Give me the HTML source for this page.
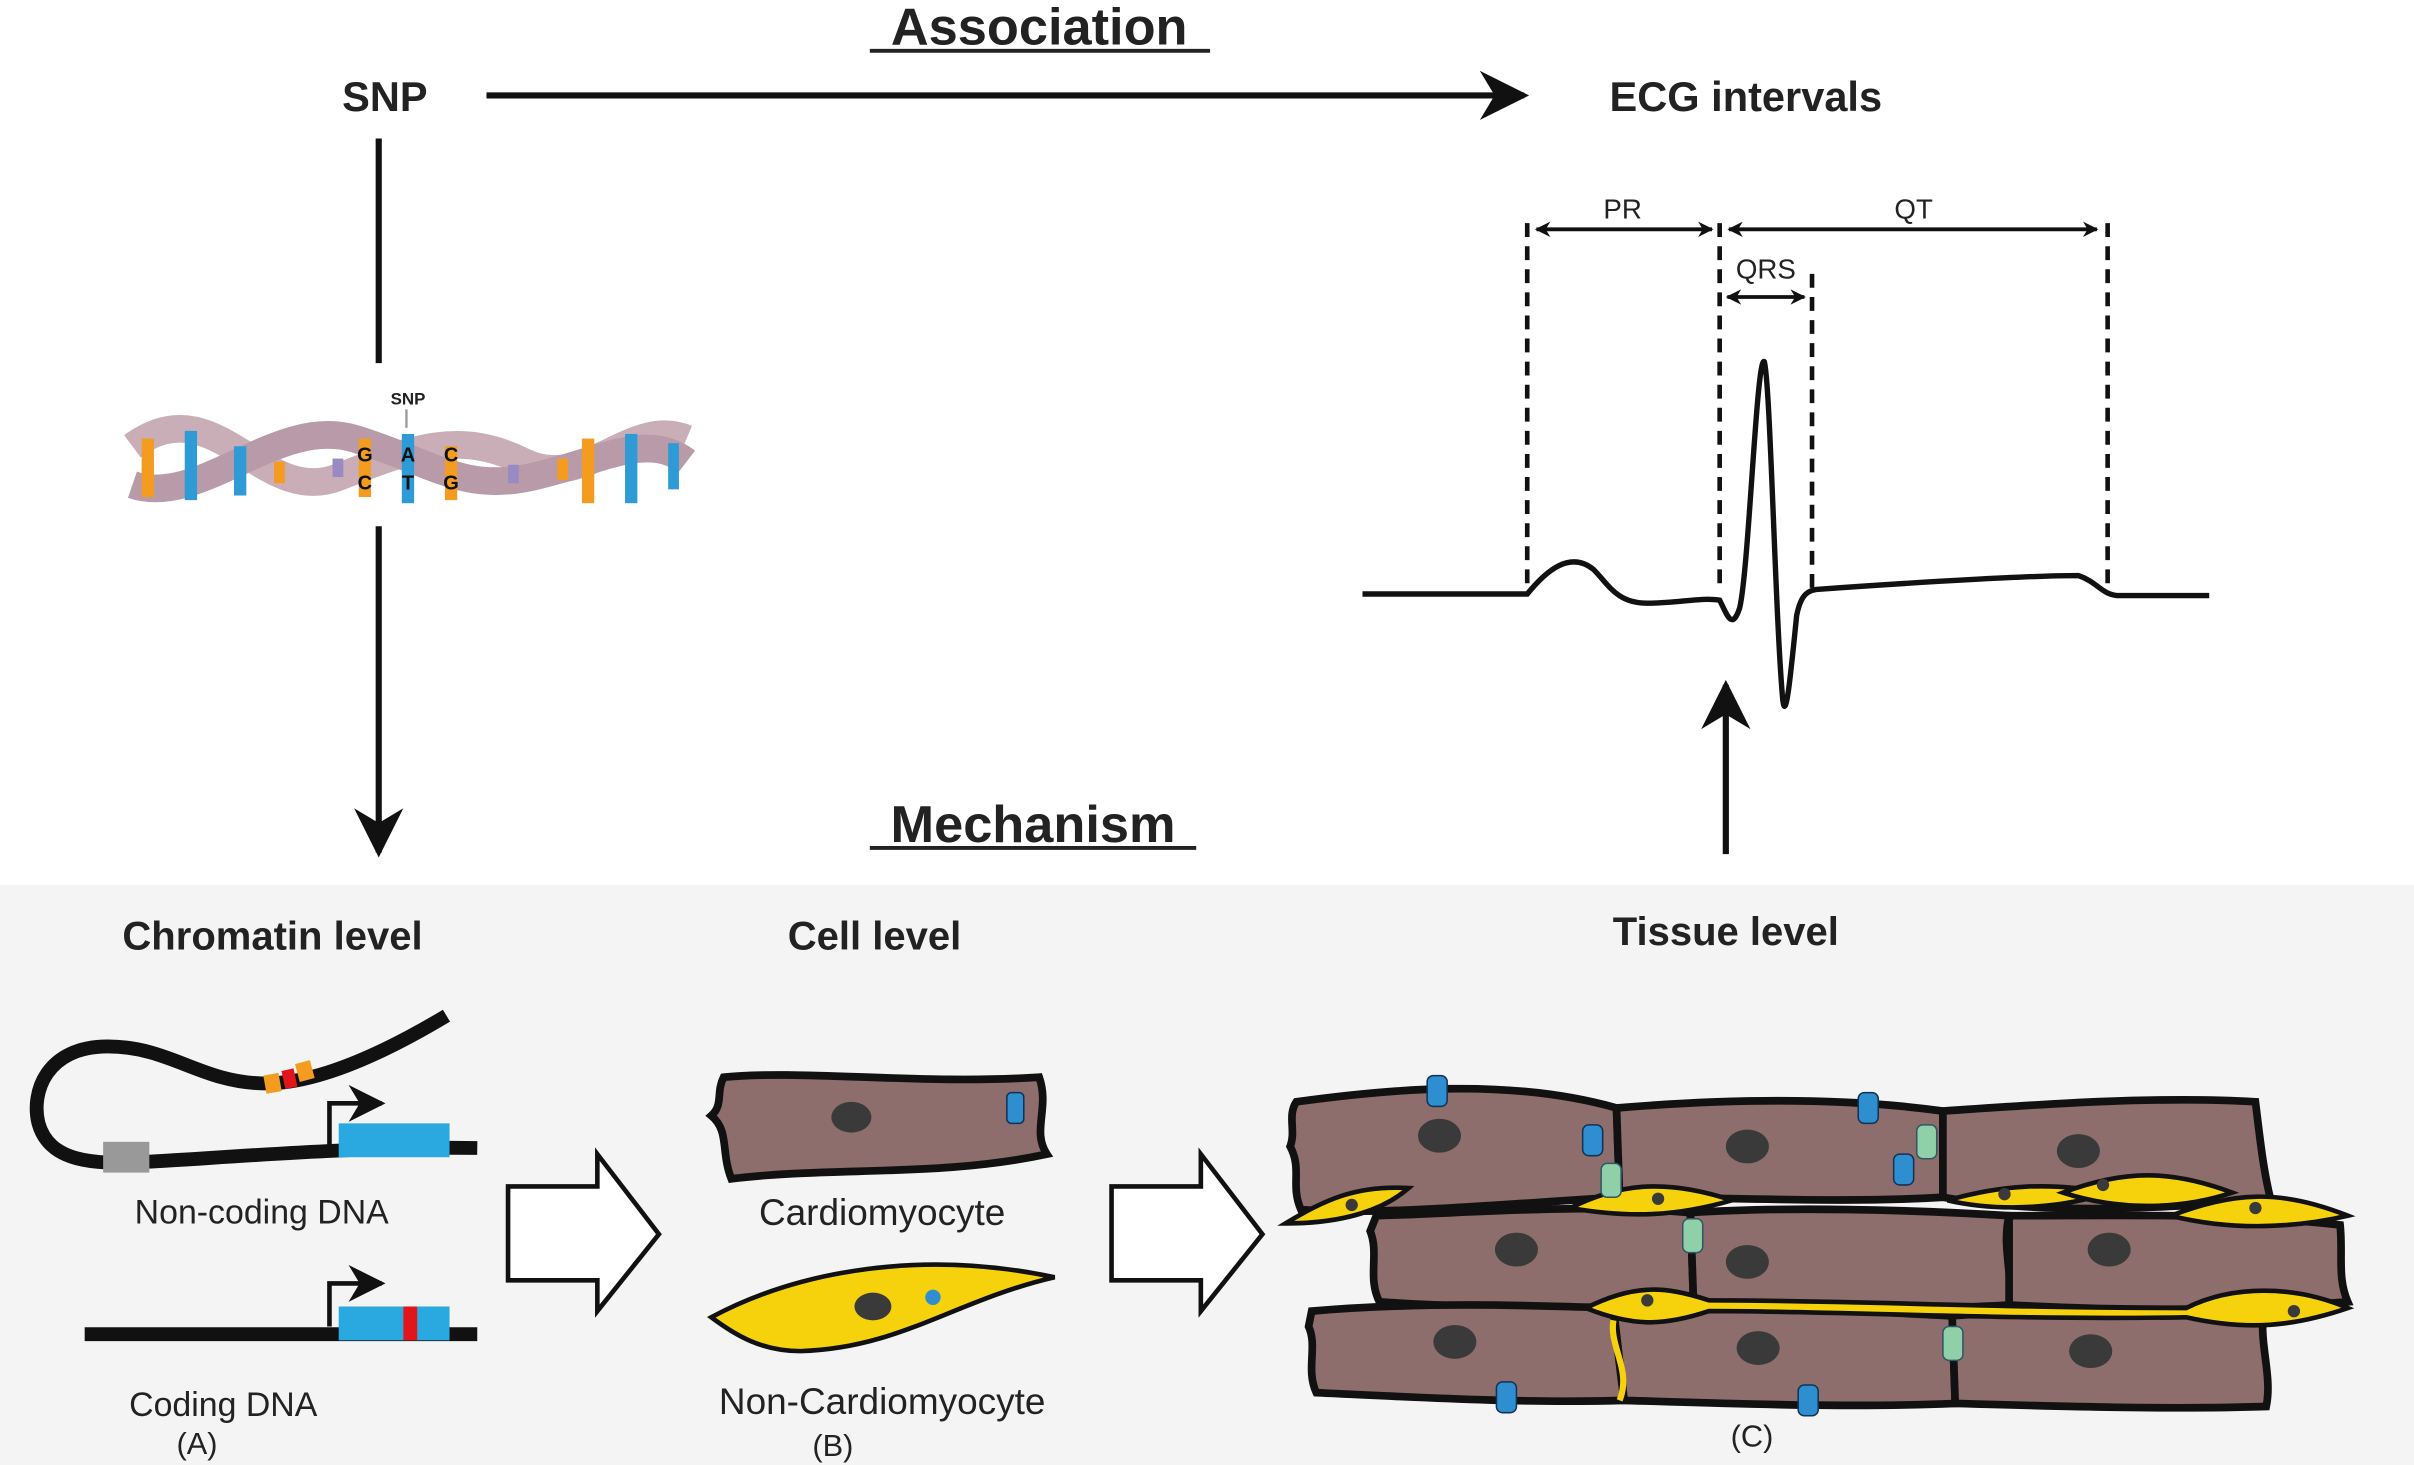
<!DOCTYPE html>
<html><head><meta charset="utf-8"><style>html,body{margin:0;padding:0;background:#fff}svg{display:block}</style></head><body>
<svg width="2414" height="1465" viewBox="0 0 1568 952" preserveAspectRatio="none" xmlns="http://www.w3.org/2000/svg" font-family="Liberation Sans, sans-serif">
<defs>
<marker id="ah" viewBox="0 0 10 10" refX="9" refY="5" markerWidth="8" markerHeight="8" orient="auto"><path d="M0,0 L10,5 L0,10 L3,5z" fill="#111"/></marker>
<marker id="sa" viewBox="0 0 10 10" refX="9" refY="5" markerWidth="4" markerHeight="4" orient="auto-start-reverse"><path d="M0,0 L10,5 L0,10 L3,5z" fill="#111"/></marker>
</defs>
<rect width="1568" height="952" fill="#fff"/>
<rect x="0" y="575" width="1568" height="377" fill="#f4f4f4"/>
<text x="675" y="29" font-size="34" font-weight="bold" text-anchor="middle" fill="#222">Association</text>
<line x1="565" y1="33" x2="786" y2="33" stroke="#222" stroke-width="2.5"/>
<text x="250" y="72" font-size="27" font-weight="bold" text-anchor="middle" fill="#222">SNP</text>
<text x="1134" y="72" font-size="27" font-weight="bold" text-anchor="middle" fill="#222">ECG intervals</text>
<line x1="316" y1="62" x2="990" y2="62" stroke="#111" stroke-width="4" marker-end="url(#ah)"/>
<line x1="246" y1="90" x2="246" y2="236" stroke="#111" stroke-width="4"/>
<line x1="246" y1="342" x2="246" y2="554" stroke="#111" stroke-width="4" marker-end="url(#ah)"/>
<text x="671" y="547" font-size="34" font-weight="bold" text-anchor="middle" fill="#222">Mechanism</text>
<line x1="565" y1="551" x2="777" y2="551" stroke="#222" stroke-width="2.5"/>
<line x1="1121" y1="555" x2="1121" y2="445" stroke="#111" stroke-width="4" marker-end="url(#ah)"/>
<g>
<path d="M86,290 C140,250 170,330 220,310 C270,290 300,280 340,300 C380,320 410,270 446,285" stroke="#c9aeb8" stroke-width="18" fill="none"/>
<path d="M86,315 C130,330 180,270 230,285 C280,300 300,320 345,310 C390,300 420,280 446,300" stroke="#b99aa8" stroke-width="18" fill="none"/>
<rect x="92" y="285" width="8" height="38" fill="#f39c1f"/>
<rect x="120" y="280" width="8" height="45" fill="#2e9ad6"/>
<rect x="152" y="290" width="8" height="32" fill="#2e9ad6"/>
<rect x="178" y="300" width="7" height="14" fill="#f39c1f"/>
<rect x="216" y="298" width="7" height="12" fill="#9a8ac4"/>
<rect x="233" y="285" width="8" height="38" fill="#f39c1f"/>
<rect x="261" y="282" width="8" height="45" fill="#2e9ad6"/>
<rect x="289" y="290" width="8" height="35" fill="#f39c1f"/>
<rect x="330" y="302" width="7" height="12" fill="#9a8ac4"/>
<rect x="362" y="298" width="7" height="14" fill="#f39c1f"/>
<rect x="378" y="285" width="8" height="42" fill="#f39c1f"/>
<rect x="406" y="282" width="8" height="45" fill="#2e9ad6"/>
<rect x="434" y="288" width="7" height="30" fill="#2e9ad6"/>
<text x="265" y="263" font-size="11" font-weight="bold" text-anchor="middle" fill="#222">SNP</text>
<line x1="264" y1="266" x2="264" y2="278" stroke="#999" stroke-width="1.5"/>
<g font-size="13" font-weight="bold" fill="#111" text-anchor="middle"><text x="237" y="300">G</text><text x="265" y="300">A</text><text x="293" y="300">C</text><text x="237" y="318">C</text><text x="265" y="318">T</text><text x="293" y="318">G</text></g>
</g>
<g stroke="#111" stroke-width="3" stroke-dasharray="9,6">
<line x1="992" y1="145" x2="992" y2="385"/><line x1="1117" y1="145" x2="1117" y2="385"/><line x1="1177" y1="178" x2="1177" y2="385"/><line x1="1369" y1="145" x2="1369" y2="385"/>
</g>
<g stroke="#111" stroke-width="2.5">
<line x1="998" y1="149" x2="1112" y2="149" marker-start="url(#sa)" marker-end="url(#sa)"/>
<line x1="1123" y1="149" x2="1362" y2="149" marker-start="url(#sa)" marker-end="url(#sa)"/>
<line x1="1122" y1="193" x2="1172" y2="193" marker-start="url(#sa)" marker-end="url(#sa)"/>
</g>
<g font-size="18" fill="#222" text-anchor="middle"><text x="1054" y="142">PR</text><text x="1243" y="142">QT</text><text x="1147" y="181">QRS</text></g>
<path d="M885,386 L992,386 C1005,370 1020,358 1035,370 C1045,380 1050,392 1070,392 C1090,392 1105,388 1117,390 C1122,400 1125,410 1130,395 C1136,370 1141,230 1146,235 C1150,250 1153,400 1158,455 C1160,470 1163,440 1167,400 C1170,385 1175,384 1180,383 C1250,378 1320,374 1350,374 C1362,378 1365,386 1375,387 L1435,387" stroke="#111" stroke-width="3.5" fill="none"/>
<g font-size="26" font-weight="bold" fill="#222" text-anchor="middle"><text x="177" y="617">Chromatin level</text><text x="568" y="617">Cell level</text><text x="1121" y="614">Tissue level</text></g>
<path d="M290,660 C240,690 200,705 170,704 C130,703 110,680 70,680 C30,680 20,710 25,730 C32,755 60,757 95,755 C150,752 230,745 310,746" stroke="#111" stroke-width="9" fill="none"/>
<rect x="172" y="698" width="10" height="12" fill="#f39c1f" transform="rotate(-10 177 704)"/>
<rect x="184" y="695" width="8" height="12" fill="#e0161c" transform="rotate(-12 188 701)"/>
<rect x="193" y="690" width="10" height="12" fill="#f39c1f" transform="rotate(-15 198 696)"/>
<rect x="67" y="742" width="30" height="20" fill="#999"/>
<rect x="220" y="730" width="72" height="22" fill="#2aa8e0"/>
<path d="M214,745 L214,717 L248,717" stroke="#111" stroke-width="3" fill="none" marker-end="url(#ah)"/>
<text x="170" y="795" font-size="22" fill="#222" text-anchor="middle">Non-coding DNA</text>
<line x1="55" y1="867" x2="310" y2="867" stroke="#111" stroke-width="9"/>
<rect x="220" y="849" width="72" height="22" fill="#2aa8e0"/>
<rect x="262" y="849" width="9" height="22" fill="#e0161c"/>
<path d="M214,862 L214,834 L248,834" stroke="#111" stroke-width="3" fill="none" marker-end="url(#ah)"/>
<text x="145" y="920" font-size="22" fill="#222" text-anchor="middle">Coding DNA</text>
<text x="128" y="945" font-size="20" fill="#222" text-anchor="middle">(A)</text>
<path d="M330,771 L388,771 L388,750 L428,802 L388,852 L388,832 L330,832z" fill="#fff" stroke="#111" stroke-width="3"/>
<path d="M722,771 L780,771 L780,750 L820,802 L780,852 L780,832 L722,832z" fill="#fff" stroke="#111" stroke-width="3"/>
<path d="M470,700 C520,695 600,705 675,700 C682,720 670,735 680,750 C610,765 540,758 475,766 C468,748 474,735 462,725 C470,718 465,710 470,700z" fill="#8d6e6c" stroke="#111" stroke-width="5"/>
<ellipse cx="553" cy="726" rx="13" ry="10" fill="#3a3a3a"/>
<rect x="654" y="710" width="11" height="20" rx="3" fill="#2e8ed0" stroke="#135" stroke-width="1"/>
<text x="573" y="796" font-size="24" fill="#222" text-anchor="middle">Cardiomyocyte</text>
<path d="M462,856 C520,825 600,812 685,830 C620,845 585,876 520,878 C495,878 478,868 462,856z" fill="#f6d20c" stroke="#111" stroke-width="3"/>
<ellipse cx="567" cy="849" rx="12" ry="9" fill="#3a3a3a"/>
<circle cx="606" cy="843" r="5" fill="#2e8ed0"/>
<text x="573" y="919" font-size="24" fill="#222" text-anchor="middle">Non-Cardiomyocyte</text>
<text x="541" y="946" font-size="20" fill="#222" text-anchor="middle">(B)</text>
<g stroke="#111" stroke-width="5" fill="#8d6e6c">
<path d="M842,716 C900,708 980,700 1050,720 L1052,778 C980,782 900,790 845,786 C838,770 846,760 838,745 C842,735 836,725 842,716z"/>
<path d="M1050,720 C1110,715 1190,712 1262,722 L1262,778 C1200,782 1120,778 1052,778z"/>
<path d="M1262,722 C1320,718 1400,712 1465,716 C1468,740 1470,760 1475,780 C1400,785 1330,790 1262,778z"/>
<path d="M894,790 C960,788 1030,782 1098,788 L1100,846 C1030,852 960,850 896,846 C888,830 896,815 890,800z"/>
<path d="M1098,788 C1160,784 1240,786 1305,790 C1300,810 1308,830 1305,848 C1240,852 1160,850 1100,846z"/>
<path d="M1305,790 C1380,790 1450,788 1520,796 C1522,815 1518,830 1525,846 C1450,852 1380,852 1305,848z"/>
<path d="M852,852 C920,846 990,848 1048,850 C1050,870 1052,890 1055,910 C990,912 920,908 855,905 C848,890 856,875 850,862z"/>
<path d="M1048,850 C1120,846 1200,852 1268,855 L1270,912 C1200,915 1120,912 1055,910z"/>
<path d="M1268,855 C1340,850 1410,852 1470,855 C1468,875 1476,895 1472,914 C1410,916 1340,914 1270,912z"/>
</g>
<g fill="#3a3a3a">
<ellipse cx="935" cy="738" rx="14" ry="11"/><ellipse cx="1135" cy="745" rx="14" ry="11"/><ellipse cx="1350" cy="748" rx="14" ry="11"/>
<ellipse cx="985" cy="812" rx="14" ry="11"/><ellipse cx="1135" cy="820" rx="14" ry="11"/><ellipse cx="1370" cy="812" rx="14" ry="11"/>
<ellipse cx="945" cy="872" rx="14" ry="11"/><ellipse cx="1142" cy="876" rx="14" ry="11"/><ellipse cx="1358" cy="878" rx="14" ry="11"/>
</g>
<g fill="#f6d20c" stroke="#111" stroke-width="3">
<path d="M835,795 C860,780 880,770 915,772 C900,785 875,795 835,795z"/>
<path d="M1020,785 C1050,770 1080,765 1125,780 C1090,790 1060,792 1020,785z"/>
<path d="M1265,780 C1300,770 1330,768 1370,775 C1340,785 1300,788 1265,780z"/>
<path d="M1340,775 C1380,760 1410,760 1450,775 C1420,785 1380,788 1340,775z"/>
<path d="M1410,790 C1450,775 1480,772 1525,790 C1490,798 1450,800 1410,790z"/>
<path d="M1030,850 C1060,835 1080,835 1110,845 C1200,845 1300,850 1420,850 C1450,835 1490,835 1525,850 C1490,862 1460,865 1420,856 C1300,858 1200,852 1110,852 C1080,862 1060,862 1030,850z"/>
<path d="M1048,858 C1045,875 1060,890 1052,910" stroke="#f6d20c" stroke-width="4" fill="none"/>
</g>
<g fill="#3a3a3a"><circle cx="878" cy="783" r="4"/><circle cx="1077" cy="779" r="4"/><circle cx="1302" cy="776" r="4"/><circle cx="1366" cy="770" r="4"/><circle cx="1465" cy="785" r="4"/><circle cx="1070" cy="845" r="4"/><circle cx="1490" cy="852" r="4"/></g>
<g fill="#2e8ed0" stroke="#135" stroke-width="1">
<rect x="927" y="699" width="13" height="20" rx="4"/><rect x="1207" y="710" width="13" height="20" rx="4"/><rect x="1028" y="731" width="13" height="20" rx="4"/><rect x="1230" y="750" width="13" height="20" rx="4"/><rect x="972" y="898" width="13" height="20" rx="4"/><rect x="1168" y="900" width="13" height="20" rx="4"/>
</g>
<g fill="#8fd0a8" stroke="#356" stroke-width="1">
<rect x="1040" y="756" width="13" height="22" rx="4"/><rect x="1245" y="731" width="13" height="22" rx="4"/><rect x="1093" y="792" width="13" height="22" rx="4"/><rect x="1262" y="862" width="13" height="22" rx="4"/>
</g>
<text x="1138" y="940" font-size="20" fill="#222" text-anchor="middle">(C)</text>
</svg>
</body></html>
